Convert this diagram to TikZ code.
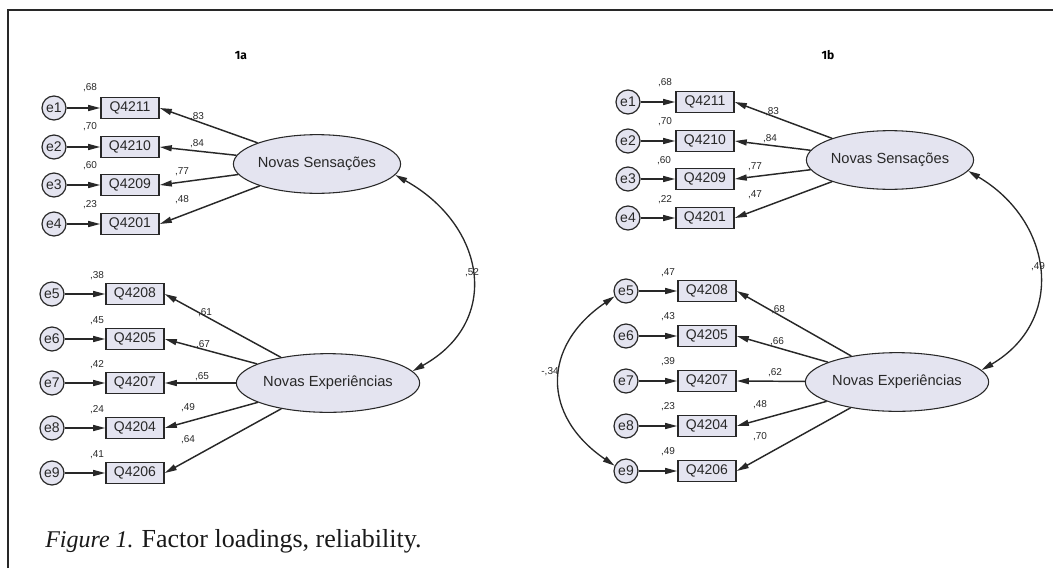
\documentclass[tikz,border=0pt]{standalone}
\usepackage{fontspec}
\setmainfont{Liberation Sans}
\newfontfamily\capfont{Liberation Serif}
\newfontfamily\panelfont{Fira Sans}
\usetikzlibrary{arrows.meta,shapes.geometric}
\definecolor{semfill}{RGB}{228,228,240}
\definecolor{semline}{RGB}{40,40,40}
\tikzset{
  errc/.style={circle, draw=semline, fill=semfill, line width=0.9pt, minimum size=18pt, inner sep=0pt, text=semline, font=\fontsize{10.5}{11}\selectfont},
  itembox/.style={rectangle, draw=semline, fill=semfill, line width=1.2pt, minimum width=43.5pt, minimum height=15.5pt, inner sep=0pt, text=semline, font=\fontsize{10.5}{11}\selectfont},
  factor/.style={ellipse, draw=semline, fill=semfill, line width=0.8pt, minimum width=107pt, minimum height=44pt, inner sep=0pt, text=semline, font=\fontsize{11}{12}\selectfont},
  load/.style={draw=semline, line width=1.1pt, -{Triangle[length=9pt,width=4.5pt]}},
  cov/.style={draw=semline, line width=1pt, {Triangle[length=9pt,width=4.5pt]}-{Triangle[length=9pt,width=4.5pt]}},
  est/.style={inner sep=0pt, text=semline, font=\fontsize{7.5}{8}\selectfont},
}
\begin{document}
\begin{tikzpicture}[x=0.75pt,y=-0.75pt]
\useasboundingbox (0,0) rectangle (1053,568);
\draw[semline, line width=1.2pt] (8,568) -- (8,10) -- (1053,10);

% 1a
\node[font=\panelfont\bfseries\fontsize{9}{10}\selectfont] (la) at (241,56) {1a};
\node[factor] (nsa) at (317,164) {Novas Sensações};
\node[factor] (nea) at (328,383) {Novas Experiências};

\node[errc] (ea1) at (54,108) {e1};
\node[errc] (ea2) at (54,147) {e2};
\node[errc] (ea3) at (54,185) {e3};
\node[errc] (ea4) at (54,224) {e4};
\node[itembox] (qa1) at (130,108) {Q4211};
\node[itembox] (qa2) at (130,147) {Q4210};
\node[itembox] (qa3) at (130,185) {Q4209};
\node[itembox] (qa4) at (130,224) {Q4201};

\node[errc] (ea5) at (52,294) {e5};
\node[errc] (ea6) at (52,339) {e6};
\node[errc] (ea7) at (52,383) {e7};
\node[errc] (ea8) at (52,428) {e8};
\node[errc] (ea9) at (52,473) {e9};
\node[itembox] (qa5) at (135,294) {Q4208};
\node[itembox] (qa6) at (135,339) {Q4205};
\node[itembox] (qa7) at (135,383) {Q4207};
\node[itembox] (qa8) at (135,428) {Q4204};
\node[itembox] (qa9) at (135,473) {Q4206};

\draw[load] (ea1) -- (qa1);
\draw[load] (ea2) -- (qa2);
\draw[load] (ea3) -- (qa3);
\draw[load] (ea4) -- (qa4);
\draw[load] (ea5) -- (qa5);
\draw[load] (ea6) -- (qa6);
\draw[load] (ea7) -- (qa7);
\draw[load] (ea8) -- (qa8);
\draw[load] (ea9) -- (qa9);
\draw[load] (nsa) -- (qa1.east);
\draw[load] (nsa) -- (qa2.east);
\draw[load] (nsa) -- (qa3.east);
\draw[load] (nsa) -- (qa4.east);
\draw[load] (nea) -- (qa5.east);
\draw[load] (nea) -- (qa6.east);
\draw[load] (nea) -- (qa7.east);
\draw[load] (nea) -- (qa8.east);
\draw[load] (nea) -- (qa9.east);
\draw[cov] (nsa.-8) .. controls +(90,50) and +(90,-50) .. (nea.8);

\path (90,88) node[est] {,68};
\path (90,127) node[est] {,70};
\path (90,166) node[est] {,60};
\path (90,205) node[est] {,23};
\path (97,276) node[est] {,38};
\path (97,321) node[est] {,45};
\path (97,365) node[est] {,42};
\path (97,410) node[est] {,24};
\path (97,455) node[est] {,41};
\path (197,117) node[est] {,83};
\path (197,144) node[est] {,84};
\path (182,172) node[est] {,77};
\path (182,200) node[est] {,48};
\path (205,313) node[est] {,61};
\path (203,345) node[est] {,67};
\path (202,377) node[est] {,65};
\path (188,408) node[est] {,49};
\path (188,440) node[est] {,64};
\path (472,273) node[est] {,52};

% 1b
\node[font=\panelfont\bfseries\fontsize{9}{10}\selectfont] (lb) at (828,55) {1b};
\node[factor] (nsb) at (890,160) {Novas Sensações};
\node[factor] (neb) at (897,382) {Novas Experiências};

\node[errc] (eb1) at (628,102) {e1};
\node[errc] (eb2) at (628,141) {e2};
\node[errc] (eb3) at (628,179) {e3};
\node[errc] (eb4) at (628,218) {e4};
\node[itembox] (qb1) at (705,102) {Q4211};
\node[itembox] (qb2) at (705,141) {Q4210};
\node[itembox] (qb3) at (705,179) {Q4209};
\node[itembox] (qb4) at (705,218) {Q4201};

\node[errc] (eb5) at (626,291) {e5};
\node[errc] (eb6) at (626,336) {e6};
\node[errc] (eb7) at (626,381) {e7};
\node[errc] (eb8) at (626,426) {e8};
\node[errc] (eb9) at (626,471) {e9};
\node[itembox] (qb5) at (707,291) {Q4208};
\node[itembox] (qb6) at (707,336) {Q4205};
\node[itembox] (qb7) at (707,381) {Q4207};
\node[itembox] (qb8) at (707,426) {Q4204};
\node[itembox] (qb9) at (707,471) {Q4206};

\draw[load] (eb1) -- (qb1);
\draw[load] (eb2) -- (qb2);
\draw[load] (eb3) -- (qb3);
\draw[load] (eb4) -- (qb4);
\draw[load] (eb5) -- (qb5);
\draw[load] (eb6) -- (qb6);
\draw[load] (eb7) -- (qb7);
\draw[load] (eb8) -- (qb8);
\draw[load] (eb9) -- (qb9);
\draw[load] (nsb) -- (qb1.east);
\draw[load] (nsb) -- (qb2.east);
\draw[load] (nsb) -- (qb3.east);
\draw[load] (nsb) -- (qb4.east);
\draw[load] (neb) -- (qb5.east);
\draw[load] (neb) -- (qb6.east);
\draw[load] (neb) -- (qb7.east);
\draw[load] (neb) -- (qb8.east);
\draw[load] (neb) -- (qb9.east);
\draw[cov] (nsb.-8) .. controls +(85,50) and +(85,-50) .. (neb.8);
\draw[cov] (eb5.-155) .. controls +(-73,50) and +(-73,-50) .. (eb9.155);

\path (665,83) node[est] {,68};
\path (665,122) node[est] {,70};
\path (664,161) node[est] {,60};
\path (665,200) node[est] {,22};
\path (668,273) node[est] {,47};
\path (668,317) node[est] {,43};
\path (668,362) node[est] {,39};
\path (668,407) node[est] {,23};
\path (668,452) node[est] {,49};
\path (772,112) node[est] {,83};
\path (770,139) node[est] {,84};
\path (755,167) node[est] {,77};
\path (755,195) node[est] {,47};
\path (778,310) node[est] {,68};
\path (777,342) node[est] {,66};
\path (775,373) node[est] {,62};
\path (760,405) node[est] {,48};
\path (760,437) node[est] {,70};
\path (1038,267) node[est] {,49};
\path (550,372) node[est] {-,34};

\node[anchor=base west, inner sep=0pt, text=black!90, font=\capfont\fontsize{18}{20}\selectfont] (cap) at (45,547) {\textit{Figure 1.} {\fontsize{19.5}{20}\selectfont Factor loadings, reliability.}};
\end{tikzpicture}
\end{document}
